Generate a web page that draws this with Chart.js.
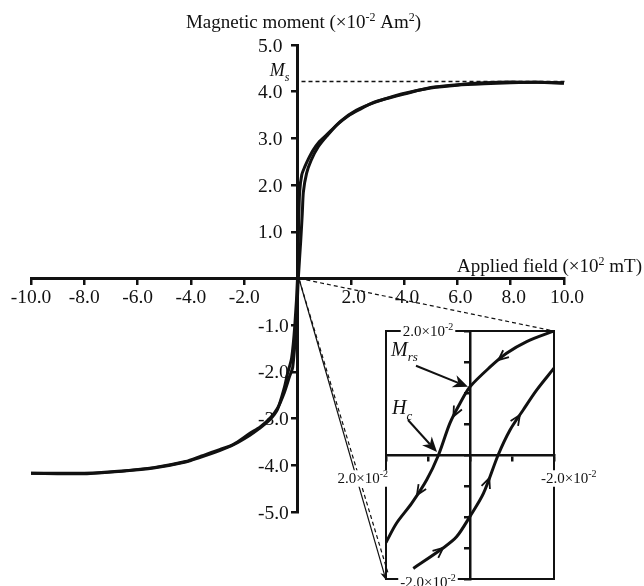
<!DOCTYPE html>
<html>
<head>
<meta charset="utf-8">
<title>Hysteresis loop</title>
<script src="https://cdn.jsdelivr.net/npm/chart.js@4.4.1/dist/chart.umd.min.js"></script>
<style>
  html, body { margin: 0; padding: 0; background: #fff; }
  #wrap { position: relative; width: 644px; height: 586px; }
  #wrap canvas { position: absolute; left: 0; top: 0; }
</style>
</head>
<body>
<div id="wrap">
  <canvas id="loopChart" width="644" height="586"></canvas>
  <canvas id="zoomChart" width="644" height="586"></canvas>
</div>
<script>
// applied field (x10^2 mT) and moment (x10^-2 Am^2), swept down from +10
const downField = [10.0, 9.0, 8.0, 7.0, 6.0, 5.0, 4.0, 3.4, 2.9, 2.3, 1.9, 1.5, 1.1, 0.8, 0.6, 0.4, 0.28, 0.16, 0.08, 0.04, 0.0,
  -0.1, -0.22, -0.38, -0.5, -0.75, -1.05, -1.45, -1.8, -2.4, -2.9, -3.7, -4.2, -5.4, -6.6, -7.9, -9.0, -10.0];
const downMoment = [4.19, 4.20, 4.21, 4.19, 4.15, 4.09, 3.95, 3.86, 3.78, 3.61, 3.48, 3.30, 3.08, 2.92, 2.76, 2.55, 2.40, 2.22, 1.85, 1.1, 0.0,
  -1.0, -1.7, -2.05, -2.35, -2.8, -3.03, -3.22, -3.36, -3.56, -3.68, -3.84, -3.93, -4.06, -4.13, -4.18, -4.18, -4.17];
// swept back up from -10
const upField = [-10.0, -9.0, -8.0, -6.6, -5.4, -4.2, -3.6, -2.9, -2.4, -1.8, -1.4, -1.0, -0.75, -0.5, -0.3, -0.18, -0.05, 0.03,
  0.12, 0.18, 0.22, 0.34, 0.51, 0.78, 1.1, 1.6, 2.2, 2.9, 3.9, 5.0, 6.0, 7.0, 8.0, 9.0, 10.0];
const upMoment = [-4.17, -4.17, -4.17, -4.12, -4.05, -3.92, -3.80, -3.66, -3.55, -3.32, -3.18, -2.97, -2.78, -2.45, -2.1, -1.9, -1.0, 0.0,
  0.8, 1.4, 1.85, 2.25, 2.53, 2.82, 3.05, 3.36, 3.60, 3.77, 3.95, 4.08, 4.14, 4.17, 4.19, 4.20, 4.18];
const saturation = 4.22;

const fieldTicks = [-10, -8, -6, -4, -2, 0, 2, 4, 6, 8, 10];
const momentTicks = [-5, -4, -3, -2, -1, 0, 1, 2, 3, 4, 5];

// close-up of the loop around the origin
const zoomDownField = [-0.020, -0.0135, -0.0087, -0.0048, 0.0, 0.0024, 0.0048, 0.0075, 0.0103, 0.0139, 0.0175, 0.0200];
const zoomDownMoment = [0.0200, 0.0183, 0.0164, 0.0142, 0.0110, 0.0083, 0.0051, 0.0, -0.0040, -0.0078, -0.0110, -0.0141];
const zoomUpField = [0.0135, 0.0064, 0.0032, 0.0, -0.0032, -0.0067, -0.0095, -0.0127, -0.0159, -0.0200];
const zoomUpMoment = [-0.0183, -0.0150, -0.0132, -0.0099, -0.0062, 0.0, 0.0040, 0.0073, 0.0105, 0.0140];
const remanence = 0.011;
const coercivity = 0.0075;

const zoomFieldTicks = [-0.02, -0.01, 0, 0.01, 0.02];
const zoomMomentTicks = [-0.02, -0.015, -0.01, -0.005, 0, 0.005, 0.01, 0.015, 0.02];

const ink = '#111';
const serif = '"Liberation Serif", "Times New Roman", serif';

function pts(xs, ys) {
  return xs.map((x, i) => ({ x, y: ys[i] }));
}

// text with super/subscript runs: parts = [[text, 'sup'|'sub'|null, 'italic'|null], ...]
function richText(ctx, parts, x, y, align, size, bg) {
  const small = Math.round(size * 0.64);
  const runs = parts.map(([text, pos, style]) => {
    const font = `${style || ''} ${pos ? small : size}px ${serif}`.trim();
    ctx.font = font;
    const dy = pos === 'sup' ? -size * 0.38 : pos === 'sub' ? size * 0.28 : 0;
    return { text, font, dy, w: ctx.measureText(text).width };
  });
  const total = runs.reduce((s, r) => s + r.w, 0);
  let cx = align === 'center' ? x - total / 2 : align === 'right' ? x - total : x;
  if (bg) {
    ctx.save();
    ctx.fillStyle = '#fff';
    ctx.fillRect(cx - 2, y - size * 0.85, total + 4, size * 1.1);
    ctx.restore();
  }
  ctx.textAlign = 'left';
  ctx.textBaseline = 'alphabetic';
  runs.forEach(r => {
    ctx.font = r.font;
    ctx.fillText(r.text, cx, y + r.dy);
    cx += r.w;
  });
}

function drawArrow(ctx, x1, y1, x2, y2, len, half) {
  const a = Math.atan2(y2 - y1, x2 - x1);
  const c = Math.cos(a), s = Math.sin(a);
  ctx.beginPath();
  ctx.moveTo(x1, y1);
  ctx.lineTo(x2 - len * 0.7 * c, y2 - len * 0.7 * s);
  ctx.stroke();
  ctx.beginPath();
  ctx.moveTo(x2, y2);
  ctx.lineTo(x2 - len * c - half * s, y2 - len * s + half * c);
  ctx.lineTo(x2 - len * 0.7 * c, y2 - len * 0.7 * s);
  ctx.lineTo(x2 - len * c + half * s, y2 - len * s - half * c);
  ctx.closePath();
  ctx.fill();
}

function drawChevron(ctx, x, y, a) {
  const L = 11, spread = 0.42;
  ctx.beginPath();
  ctx.moveTo(x - L * Math.cos(a - spread), y - L * Math.sin(a - spread));
  ctx.lineTo(x, y);
  ctx.lineTo(x - L * Math.cos(a + spread), y - L * Math.sin(a + spread));
  ctx.stroke();
}

// chevrons along a branch at fractional point indices
function chevronsOn(chart, dsIndex, at) {
  const els = chart.getDatasetMeta(dsIndex).data;
  const ctx = chart.ctx;
  at.forEach(k => {
    const i = Math.floor(k), t = k - i;
    const p = els[i], q = els[i + 1];
    drawChevron(ctx, p.x + (q.x - p.x) * t, p.y + (q.y - p.y) * t, Math.atan2(q.y - p.y, q.x - p.x));
  });
}

function axisOpts(min, max, ticks, pos, border) {
  return {
    type: 'linear', min, max, position: pos,
    afterBuildTicks: s => { s.ticks = ticks.map(v => ({ value: v })); },
    ticks: { display: false },
    grid: { drawOnChartArea: false, drawTicks: true, tickLength: 5, lineWidth: 2.5, color: ink },
    border: { display: true, width: border, color: ink }
  };
}

const loopDecor = {
  id: 'loopDecor',
  afterDraw(chart) {
    const { ctx, scales: { x, y } } = chart;
    const x0 = x.getPixelForValue(0), y0 = y.getPixelForValue(0);
    ctx.save();
    ctx.fillStyle = ink;
    ctx.font = `19.5px ${serif}`;
    ctx.textBaseline = 'alphabetic';
    ctx.textAlign = 'left';
    y.ticks.forEach(t => {
      if (t.value === 0) return;
      ctx.fillText(t.value.toFixed(1), x0 - 39.5, y.getPixelForValue(t.value) + 6.5);
    });
    ctx.textAlign = 'center';
    x.ticks.forEach(t => {
      if (t.value === 0) return;
      ctx.fillText(t.value.toFixed(1), x.getPixelForValue(t.value) + (t.value > 0 ? 3 : 0), y0 + 24);
    });

    richText(ctx, [['Magnetic moment (×10'], ['-2', 'sup'], [' Am'], ['2', 'sup'], [')']], x0 + 6, 28, 'center', 19);
    richText(ctx, [['Applied field (×10'], ['2', 'sup'], [' mT)']], chart.width - 2, y0 - 6.5, 'right', 19);

    // saturation level
    const ys = y.getPixelForValue(saturation);
    ctx.strokeStyle = ink;
    ctx.lineWidth = 1.5;
    ctx.setLineDash([4, 3]);
    ctx.beginPath();
    ctx.moveTo(x0 + 4, ys);
    ctx.lineTo(x.getPixelForValue(10) + 2, ys);
    ctx.stroke();
    ctx.setLineDash([]);
    richText(ctx, [['M', null, 'italic'], ['s', 'sub', 'italic']], x0 - 8, ys - 5, 'right', 18);
    ctx.restore();
  }
};

const loopChart = new Chart(document.getElementById('loopChart'), {
  type: 'scatter',
  data: {
    datasets: [
      { data: pts(downField, downMoment), showLine: true, borderColor: ink, borderWidth: 3, pointRadius: 0, tension: 0.25 },
      { data: pts(upField, upMoment), showLine: true, borderColor: ink, borderWidth: 3, pointRadius: 0, tension: 0.25 }
    ]
  },
  options: {
    responsive: false,
    animation: false,
    events: [],
    layout: { padding: { left: 31, right: 80, top: 45, bottom: 74 } },
    plugins: { legend: { display: false }, tooltip: { enabled: false } },
    scales: {
      x: axisOpts(-10, 10, fieldTicks, { y: 0 }, 3),
      y: axisOpts(-5, 5, momentTicks, { x: 0 }, 3)
    }
  },
  plugins: [loopDecor]
});

const zoomDecor = {
  id: 'zoomDecor',
  beforeDraw(chart) {
    const { ctx, chartArea: a } = chart;
    ctx.save();
    ctx.fillStyle = '#fff';
    ctx.fillRect(a.left, a.top, a.right - a.left, a.bottom - a.top);
    ctx.restore();
  },
  beforeDatasetsDraw(chart) {
    const { ctx, chartArea: a } = chart;
    ctx.save();
    ctx.strokeStyle = ink;
    ctx.lineWidth = 2;
    ctx.strokeRect(a.left, a.top, a.right - a.left, a.bottom - a.top);
    ctx.restore();
  },
  afterDraw(chart) {
    const { ctx, chartArea: a, scales: { x, y } } = chart;
    const x0 = x.getPixelForValue(0), y0 = y.getPixelForValue(0);
    const fmt = v => [[(v * 100).toFixed(1) + '×10'], ['-2', 'sup']];
    ctx.save();
    ctx.fillStyle = ink;
    ctx.strokeStyle = ink;

    // lines from the main origin out to the close-up
    const ox = loopChart.scales.x.getPixelForValue(0);
    const oy = loopChart.scales.y.getPixelForValue(0);
    ctx.lineWidth = 1.2;
    ctx.setLineDash([4, 3]);
    ctx.beginPath();
    ctx.moveTo(ox + 2, oy);
    ctx.lineTo(a.right, a.top);
    ctx.moveTo(ox + 2, oy + 2);
    ctx.lineTo(a.left + 2, a.bottom - 6);
    ctx.stroke();
    ctx.setLineDash([]);
    drawArrow(ctx, ox + 2, oy + 2, a.left, a.bottom + 1, 8, 3.5);

    // edge values
    richText(ctx, fmt(y.max), (a.left + x0) / 2, a.top + 5, 'center', 15, true);
    richText(ctx, fmt(y.min), (a.left + x0) / 2, a.bottom + 8, 'center', 15, true);
    richText(ctx, fmt(x.max), a.left + 2, y0 + 28, 'right', 15, true);
    richText(ctx, fmt(x.min), a.right - 13, y0 + 28, 'left', 15, true);

    // sweep direction
    ctx.lineWidth = 1.8;
    chevronsOn(chart, 0, [2.5, 5.65, 8.65]);
    chevronsOn(chart, 1, [1.0, 4.4, 6.74]);

    // remanence and coercivity markers
    const mx = x0 - 2, my = y.getPixelForValue(remanence);
    const hx = x.getPixelForValue(coercivity) - 1.5, hy = y0 - 3;
    ctx.lineWidth = 2;
    drawArrow(ctx, mx - 52, my - 21, mx, my, 15, 6.5);
    drawArrow(ctx, hx - 29, hy - 32, hx, hy, 15, 6.5);
    ctx.fillStyle = ink;
    richText(ctx, [['M', null, 'italic'], ['rs', 'sub', 'italic']], a.left + 5, my - 31, 'left', 20);
    richText(ctx, [['H', null, 'italic'], ['c', 'sub', 'italic']], a.left + 6, hy - 38, 'left', 20);
    ctx.restore();
  }
};

new Chart(document.getElementById('zoomChart'), {
  type: 'scatter',
  data: {
    datasets: [
      { data: pts(zoomDownField, zoomDownMoment), showLine: true, borderColor: ink, borderWidth: 3, pointRadius: 0, tension: 0.3 },
      { data: pts(zoomUpField, zoomUpMoment), showLine: true, borderColor: ink, borderWidth: 3, pointRadius: 0, tension: 0.3 }
    ]
  },
  options: {
    responsive: false,
    animation: false,
    events: [],
    layout: { padding: { left: 386, right: 90, top: 331, bottom: 7 } },
    plugins: { legend: { display: false }, tooltip: { enabled: false } },
    scales: {
      x: Object.assign(axisOpts(-0.02, 0.02, zoomFieldTicks, { y: 0 }, 2.5), { reverse: true }),
      y: axisOpts(-0.02, 0.02, zoomMomentTicks, { x: 0 }, 2.5)
    }
  },
  plugins: [zoomDecor]
});
</script>
</body>
</html>
